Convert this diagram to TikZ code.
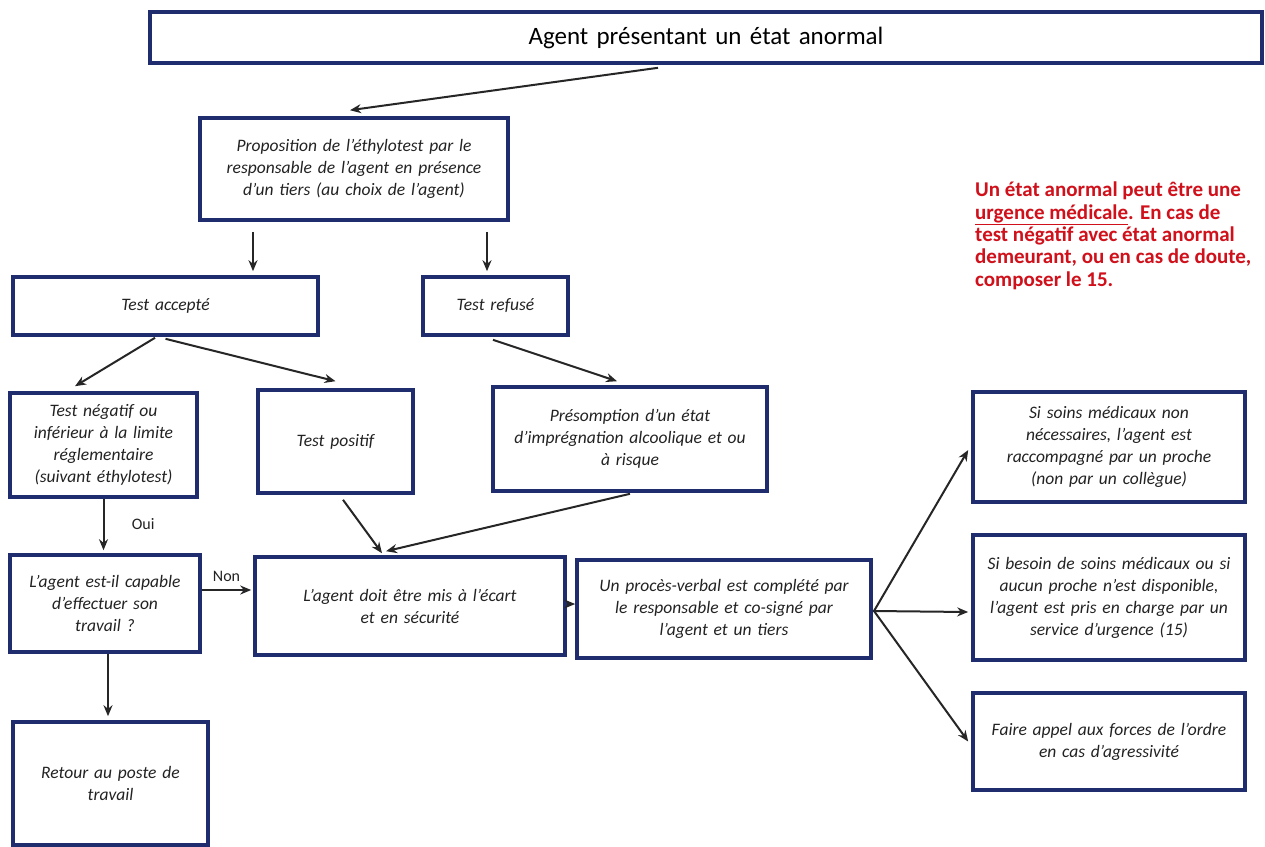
\documentclass[tikz,border=0pt]{standalone}
\usepackage{fontspec}
\setmainfont{Carlito}
\usetikzlibrary{arrows.meta}
\definecolor{boxblue}{HTML}{1F2D6E}
\definecolor{txtred}{HTML}{D0101A}
\definecolor{txtgray}{HTML}{222222}
\tikzset{
  bx/.style={draw=boxblue, line width=3.6pt, fill=white, inner sep=0pt, align=center,
    text=txtgray, font=\fontsize{17.5}{22}\selectfont\itshape},
  arr/.style={line width=2pt, -{Stealth[length=11pt,width=9pt]}, draw=black!85},
  lbl/.style={font=\fontsize{16}{18}\selectfont, text=txtgray}
}
\begin{document}
\begin{tikzpicture}[x=1pt,y=-1pt]
\useasboundingbox (0,0) rectangle (1265,846);
\fill[white] (0,0) rectangle (1265,846);

\node[bx, minimum width=1112pt, minimum height=51pt, text width=1090pt,
  font=\fontsize{25}{28}\selectfont, text=black] (top) at (706,37.5) {Agent présentant un état anormal};

\node[bx, minimum width=308pt, minimum height=102pt, text width=296pt] (prop) at (354,169)
  {Proposition de l’éthylotest par le\\ responsable de l’agent en présence\\ d’un tiers (au choix de l’agent)};

\node[bx, minimum width=305pt, minimum height=58pt, text width=290pt] (acc) at (165.5,306) {Test accepté};
\node[bx, minimum width=145pt, minimum height=58pt, text width=130pt] (ref) at (495.5,306) {Test refusé};

\node[bx, minimum width=187pt, minimum height=104pt, text width=180pt] (neg) at (103.5,445)
  {Test négatif ou\\ inférieur à la limite\\ réglementaire\\ (suivant éthylotest)};
\node[bx, minimum width=155pt, minimum height=103pt, text width=140pt] (pos) at (335.5,441.5) {Test positif};
\node[bx, minimum width=274pt, minimum height=104pt, text width=264pt] (pres) at (630,439)
  {Présomption d’un état\\ d’imprégnation alcoolique et ou\\ à risque};

\node[bx, minimum width=190pt, minimum height=97pt, text width=182pt] (cap) at (105,603.5)
  {L’agent est-il capable\\ d’effectuer son\\ travail ?};
\node[bx, minimum width=310pt, minimum height=98pt, text width=295pt] (ecart) at (410,606)
  {L’agent doit être mis à l’écart\\ et en sécurité};
\node[bx, minimum width=294pt, minimum height=98pt, text width=284pt] (pv) at (724,609)
  {Un procès-verbal est complété par\\ le responsable et co-signé par\\ l’agent et un tiers};

\node[bx, minimum width=272pt, minimum height=110pt, text width=264pt] (r1) at (1109,447)
  {Si soins médicaux non\\ nécessaires, l’agent est\\ raccompagné par un proche\\ (non par un collègue)};
\node[bx, minimum width=272pt, minimum height=125pt, text width=264pt] (r2) at (1109,597.5)
  {Si besoin de soins médicaux ou si\\ aucun proche n’est disponible,\\ l’agent est pris en charge par un\\ service d’urgence (15)};
\node[bx, minimum width=272pt, minimum height=97pt, text width=264pt] (r3) at (1109,741.5)
  {Faire appel aux forces de l’ordre\\ en cas d’agressivité};

\node[bx, minimum width=195pt, minimum height=123pt, text width=180pt] (ret) at (110.5,783.5)
  {Retour au poste de\\ travail};

\node[anchor=north west, align=left, text=txtred, inner sep=0pt,
  font=\fontsize{21}{22.3}\selectfont\bfseries] (note) at (975,182)
  {Un état anormal peut être une\\ \underline{urgence médicale}. En cas de\\ test négatif avec état anormal\\ demeurant, ou en cas de doute,\\ composer le 15.};

% arrows
\draw[arr] ([xshift=-48pt,yshift=-3pt]top.south) -- ([xshift=-4pt,yshift=6pt]prop.north);
\draw[arr] ([xshift=-101pt,yshift=-10pt]prop.south) -- ([xshift=87.5pt,yshift=4pt]acc.north);
\draw[arr] ([xshift=133pt,yshift=-10pt]prop.south) -- ([xshift=-8.5pt,yshift=4pt]ref.north);
\draw[arr] ([xshift=-10.5pt,yshift=-1pt]acc.south) -- ([xshift=-28.5pt,yshift=5pt]neg.north);
\draw[arr] ([yshift=-2pt]acc.south) -- ([yshift=7pt]pos.north);
\draw[arr] ([xshift=-2.5pt,yshift=-3pt]ref.south) -- ([xshift=-13pt,yshift=4pt]pres.north);
\draw[arr] (neg.south) -- ([yshift=3pt]neg.south |- cap.north) node[lbl, midway, right=24pt] {Oui};
\draw[arr] ([yshift=13.5pt]cap.east) -- ([yshift=13.5pt,xshift=-2pt]cap.east -| ecart.west)
  node[lbl, midway, above=4pt] {Non};
\draw[arr] ([xshift=7.5pt,yshift=-5pt]pos.south) -- ([xshift=-28pt,yshift=2pt]ecart.north);
\draw[arr] ([yshift=-1pt]pres.south) -- ([xshift=-24pt,yshift=4pt]ecart.north);
\draw[arr] ([yshift=2pt]ecart.east) -- ([yshift=2pt]ecart.east -| pv.west);
\coordinate (fork) at (874,611);
\draw[line width=2pt, draw=black!85] ([yshift=-2pt]pv.east) -- (fork);
\draw[arr] (fork) -- ([xshift=-3pt,yshift=-3pt]r1.west);
\draw[arr] (fork) -- ([xshift=-3pt,yshift=-14.5pt]r2.west);
\draw[arr] (fork) -- ([xshift=-3pt]r3.west);
\draw[arr] ([xshift=3pt]cap.south) -- ([xshift=-2.5pt,yshift=4pt]ret.north);
\end{tikzpicture}
\end{document}
